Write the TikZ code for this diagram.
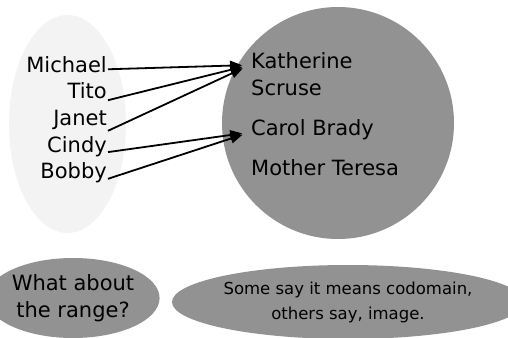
\documentclass[tikz,border=0pt]{standalone}
\usepackage{fontspec}
\setmainfont{DejaVu Sans}
\usetikzlibrary{positioning,arrows}
\usetikzlibrary{shapes.geometric}
\definecolor{setgray}{RGB}{146,146,146}
\definecolor{domgray}{RGB}{243,243,243}
\tikzset{
	person/.style={inner sep=1pt, font=\fontsize{21}{27}\selectfont},
	maps/.style={line width=1.8pt, draw=black, -triangle 45, shorten >=8pt},
	bubble/.style={ellipse, fill=setgray, inner sep=0pt, align=center}
}
\begin{document}
\begin{tikzpicture}[x=1pt,y=-1pt]
		\useasboundingbox (0,0) rectangle (508,337);
		% the two sets
		\fill[domgray] (67.5,124) ellipse [x radius=58.5pt, y radius=109pt];
		\fill[setgray] (338,123) circle [radius=116pt];

		\node[person, anchor=base east] (michael) at (108,72) {Michael};
		\node[person, anchor=base east] (tito) at ([yshift=-26.7pt]michael.base east) {Tito};
		\node[person, anchor=base east] (janet) at ([yshift=-26.7pt]tito.base east) {Janet};
		\node[person, anchor=base east] (cindy) at ([yshift=-26.7pt]janet.base east) {Cindy};
		\node[person, anchor=base east] (bobby) at ([yshift=-26.7pt]cindy.base east) {Bobby};

		\node[person, anchor=north west, align=left] (kath) at (250,51) {Katherine\\Scruse};
		\node[person, anchor=base west] (carol) at (250,135) {Carol Brady};
		\node[person, anchor=base west] (teresa) at (250,175) {Mother Teresa};
		\coordinate (kathin) at ([yshift=-14pt]kath.north west);

		\draw[maps] (michael.mid east) -- (kathin);
		\draw[maps] (tito.south east) -- (kathin);
		\draw[maps] (janet.south east) -- (kathin);
		\draw[maps] (cindy.base east) -- (carol.mid west);
		\draw[maps] (bobby.base east) -- (carol.mid west);

		% questions underneath
		\node[bubble, minimum width=140pt, minimum height=80pt, font=\fontsize{21}{27}\selectfont] (range) at (73,298) {What about\\the range?};
		\node[bubble, minimum width=320pt, minimum height=74pt, font=\fontsize{16.5}{25}\selectfont] (image) at (348,302) {Some say it means codomain,\\others say, image.};
	\end{tikzpicture}
\end{document}
